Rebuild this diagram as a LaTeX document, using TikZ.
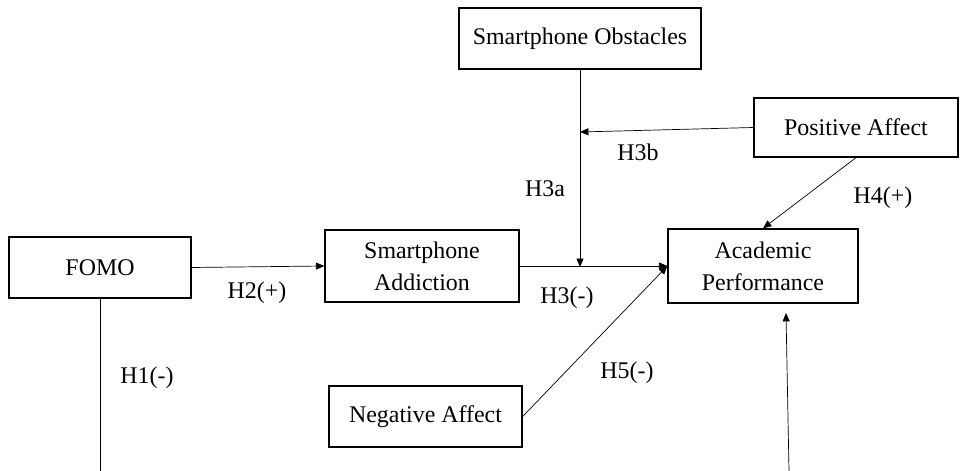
\documentclass[tikz,border=0pt]{standalone}
\usepackage{fontspec}
\setmainfont{Liberation Serif}
\usetikzlibrary{arrows.meta}

\begin{document}
\begin{tikzpicture}[x=0.025cm, y=-0.025cm, font=\fontsize{17}{23}\selectfont,
  box/.style={draw, line width=0.9pt, align=center, inner sep=0pt},
  link/.style={line width=0.5pt, -{Triangle[length=6pt, width=5pt]}},
  plain/.style={line width=0.5pt}]
\useasboundingbox (0,0) rectangle (960,471);

\node[box, minimum width=6.05cm, minimum height=1.525cm](obst) at (580, 38.5) {Smartphone Obstacles};
\node[box, minimum width=5.1cm, minimum height=1.475cm](pos) at (856, 127.5) {Positive Affect};
\node[box, minimum width=4.75cm, minimum height=1.85cm](acad) at (763, 266) {Academic\\Performance};
\node[box, minimum width=4.85cm, minimum height=1.8cm](addi) at (422, 266) {Smartphone\\Addiction};
\node[box, minimum width=4.55cm, minimum height=1.525cm](fomo) at (100, 267.5) {FOMO};
\node[box, minimum width=4.825cm, minimum height=1.525cm](nega) at (425.5, 416.5) {Negative Affect};

\coordinate(j1) at (580, 267);
\coordinate(j2) at (580, 132);
\coordinate(fend) at (100, 471);
\coordinate(ustart) at (789, 471);
\coordinate(uend) at (786, 313);

\draw[link] (fomo.east) -- (addi.west);
\draw[plain] (fomo.south) -- (fend);
\draw[link] (addi.east) -- (acad.west);
\draw[link] (obst.south) -- (j1);
\draw[link] (pos.west) -- (j2);
\draw[link] (pos.south) -- (acad.north);
\draw[link] (nega.east) -- (acad.west);
\draw[link] (ustart) -- (uend);

\node(h2) at (257, 293) {H2(+)};
\node(h1) at (147, 378) {H1(-)};
\node(h3a) at (545, 189) {H3a};
\node(h3b) at (638, 152) {H3b};
\node(h4) at (883, 198) {H4(+)};
\node(h3) at (567, 298) {H3(-)};
\node(h5) at (627, 373) {H5(-)};
\end{tikzpicture}
\end{document}
